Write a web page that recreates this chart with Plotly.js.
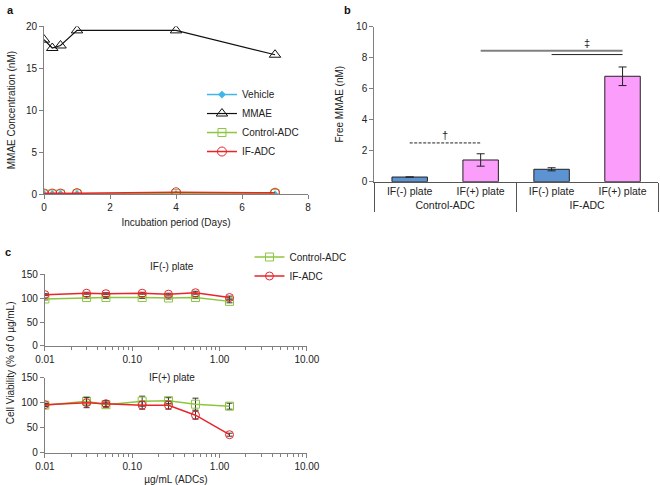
<!DOCTYPE html>
<html><head><meta charset="utf-8">
<script src="https://cdn.plot.ly/plotly-3.0.1.min.js"></script>
<style>html,body{margin:0;padding:0;background:#fff}#c{width:660px;height:485px}</style>
</head><body><div id="c"></div>
<script>
// Panel a
const days = [0, 0.25, 0.5, 1, 4, 7];
const vehicleA = [0, 0, 0, 0, 0, -0.05];
const mmaeA = [18.4, 17.4, 17.7, 19.5, 19.5, 16.6];
const controlAdcA = [0, 0, 0, 0.02, 0.05, 0.05];
const ifAdcA = [0.05, 0.05, 0.05, 0.1, 0.2, 0.15];
// Panel b
const adcGroups = ['Control-ADC', 'Control-ADC', 'IF-ADC', 'IF-ADC'];
const plates = ['IF(-) plate', 'IF(+) plate', 'IF(-) plate', 'IF(+) plate'];
const freeMmae = [0.3, 1.4, 0.8, 6.8];
const freeMmaeErr = [0, 0.4, 0.1, 0.6];
const barColors = ['#5b93d3', '#fb9dfb', '#5b93d3', '#fb9dfb'];
// significance brackets: [from bar index, to bar index, value]
const sigDash = [0, 1, 2.5];
const sigGray = [1, 3, 8.45];
const sigBlack = [2, 3, 8.2];
// Panel c
const conc = [0.01, 0.03, 0.05, 0.13, 0.26, 0.53, 1.3];
const ctrlMinus = [98, 101, 101, 101, 100, 101, 93];
const ctrlMinusErr = [2, 2, 2, 2, 2, 2, 3];
const ifMinus = [107, 110, 109, 110, 108, 111, 101];
const ifMinusErr = [2, 2, 2, 2, 2, 3, 3];
const ctrlPlus = [95, 103, 96, 103, 104, 97, 93];
const ctrlPlusErr = [3, 8, 5, 10, 6, 12, 6];
const ifPlus = [96, 100, 98, 95, 95, 75, 36];
const ifPlusErr = [3, 10, 6, 8, 8, 8, 3];

const F = '"Liberation Sans", Arial, sans-serif';
const GREEN = '#8cc63f', RED = '#e8252a', BLUE = '#3fb6e8';
const AX = {showline: true, linecolor: '#808080', linewidth: 1, ticks: 'outside', ticklen: 4,
  tickcolor: '#808080', showgrid: false, zeroline: false, automargin: false,
  tickfont: {family: F, size: 10, color: '#222'}};

function sigTrace(s, color, width, dash) {
  return {x: [[adcGroups[s[0]], adcGroups[s[1]]], [plates[s[0]], plates[s[1]]]], y: [s[2], s[2]],
    mode: 'lines', xaxis: 'x2', yaxis: 'y2', showlegend: false, line: {color: color, width: width, dash: dash}};
}

const traces = [
  {x: days, y: vehicleA, name: 'Vehicle', mode: 'lines+markers', xaxis: 'x', yaxis: 'y', legend: 'legend',
   line: {color: BLUE, width: 1.5}, marker: {symbol: 'diamond', size: 6, color: BLUE}},
  {x: days, y: mmaeA, name: 'MMAE', mode: 'lines+markers', xaxis: 'x', yaxis: 'y', legend: 'legend',
   line: {color: '#111', width: 1.2}, marker: {symbol: 'triangle-up-open', size: 10, color: '#111', line: {width: 1}}},
  {x: days, y: controlAdcA, name: 'Control-ADC', mode: 'lines+markers', xaxis: 'x', yaxis: 'y', legend: 'legend',
   line: {color: GREEN, width: 1.5}, marker: {symbol: 'square-open', size: 8, color: GREEN}},
  {x: days, y: ifAdcA, name: 'IF-ADC', mode: 'lines+markers', xaxis: 'x', yaxis: 'y', legend: 'legend',
   line: {color: RED, width: 1.5}, marker: {symbol: 'circle-open', size: 9, color: RED}},
  {type: 'bar', x: [adcGroups, plates], y: freeMmae, xaxis: 'x2', yaxis: 'y2', showlegend: false, width: 0.5,
   marker: {color: barColors, line: {color: '#222', width: 1}},
   error_y: {type: 'data', array: freeMmaeErr, color: '#222', thickness: 1, width: 4}},
  sigTrace(sigDash, '#222', 1, '3px,1.5px'),
  sigTrace(sigGray, '#808080', 2, 'solid'),
  sigTrace(sigBlack, '#222', 1, 'solid'),
  {x: conc, y: ctrlMinus, name: 'Control-ADC', mode: 'lines+markers', xaxis: 'x3', yaxis: 'y3', legend: 'legend2',
   line: {color: GREEN, width: 1.5}, marker: {symbol: 'square-open', size: 8, color: GREEN},
   error_y: {type: 'data', array: ctrlMinusErr, color: '#333', thickness: 1, width: 3}},
  {x: conc, y: ifMinus, name: 'IF-ADC', mode: 'lines+markers', xaxis: 'x3', yaxis: 'y3', legend: 'legend2',
   line: {color: RED, width: 1.5}, marker: {symbol: 'circle-open', size: 8, color: RED},
   error_y: {type: 'data', array: ifMinusErr, color: '#333', thickness: 1, width: 3}},
  {x: conc, y: ctrlPlus, name: 'Control-ADC', mode: 'lines+markers', xaxis: 'x4', yaxis: 'y4', showlegend: false,
   line: {color: GREEN, width: 1.5}, marker: {symbol: 'square-open', size: 8, color: GREEN},
   error_y: {type: 'data', array: ctrlPlusErr, color: '#333', thickness: 1, width: 3}},
  {x: conc, y: ifPlus, name: 'IF-ADC', mode: 'lines+markers', xaxis: 'x4', yaxis: 'y4', showlegend: false,
   line: {color: RED, width: 1.5}, marker: {symbol: 'circle-open', size: 8, color: RED},
   error_y: {type: 'data', array: ifPlusErr, color: '#333', thickness: 1, width: 3}}
];

const tf = {family: F, size: 10, color: '#222'};
const layout = {
  width: 660, height: 485, margin: {l: 0, r: 0, t: 0, b: 0},
  paper_bgcolor: '#fff', plot_bgcolor: 'rgba(0,0,0,0)', font: {family: F, size: 10, color: '#222'},
  xaxis: Object.assign({}, AX, {domain: [0.0667, 0.4667], anchor: 'y', range: [0, 8], dtick: 2,
    title: {text: 'Incubation period (Days)', font: tf, standoff: 6}}),
  yaxis: Object.assign({}, AX, {domain: [0.6, 0.946], anchor: 'x', range: [0, 20], dtick: 5,
    title: {text: 'MMAE Concentration (nM)', font: tf, standoff: 8}}),
  xaxis2: Object.assign({}, AX, {type: 'multicategory', domain: [0.567, 0.997], anchor: 'y2', ticks: '',
    range: [-0.5, 3.5], showdividers: true, dividercolor: '#555', dividerwidth: 1, linecolor: '#555',
    tickfont: {family: F, size: 10.5, color: '#222'}}),
  yaxis2: Object.assign({}, AX, {domain: [0.6254, 0.945], anchor: 'x2', range: [0, 10], dtick: 2,
    title: {text: 'Free MMAE (nM)', font: tf, standoff: 10}}),
  xaxis3: Object.assign({}, AX, {type: 'log', domain: [0.068, 0.465], anchor: 'y3', range: [-2, 1], dtick: 1,
    tickformat: '.2f', minor: {ticks: 'outside', ticklen: 3, tickcolor: '#808080', dtick: 'D1'}}),
  yaxis3: Object.assign({}, AX, {domain: [0.2866, 0.435], anchor: 'x3', range: [0, 150], dtick: 50}),
  xaxis4: Object.assign({}, AX, {type: 'log', domain: [0.068, 0.465], anchor: 'y4', range: [-2, 1], dtick: 1,
    tickformat: '.2f', minor: {ticks: 'outside', ticklen: 3, tickcolor: '#808080', dtick: 'D1'},
    title: {text: 'µg/mL (ADCs)', font: tf, standoff: 6}}),
  yaxis4: Object.assign({}, AX, {domain: [0.0666, 0.2213], anchor: 'x4', range: [0, 150], dtick: 50}),
  legend: {x: 0.306, y: 0.835, xanchor: 'left', yanchor: 'top', bgcolor: 'rgba(0,0,0,0)',
    font: {family: F, size: 10, color: '#222'}, itemwidth: 30, tracegroupgap: 0},
  legend2: {x: 0.378, y: 0.500, xanchor: 'left', yanchor: 'top', bgcolor: 'rgba(0,0,0,0)',
    font: {family: F, size: 10, color: '#222'}, itemwidth: 30},
  annotations: [
    {text: '<b>a</b>', xref: 'paper', yref: 'paper', x: 0.008, y: 0.995, xanchor: 'left', yanchor: 'top', showarrow: false, font: {family: F, size: 11, color: '#111'}},
    {text: '<b>b</b>', xref: 'paper', yref: 'paper', x: 0.518, y: 0.995, xanchor: 'left', yanchor: 'top', showarrow: false, font: {family: F, size: 11, color: '#111'}},
    {text: '<b>c</b>', xref: 'paper', yref: 'paper', x: 0.005, y: 0.497, xanchor: 'left', yanchor: 'top', showarrow: false, font: {family: F, size: 11, color: '#111'}},
    {text: '†', xref: 'x2', yref: 'y2', x: (sigDash[0] + sigDash[1]) / 2, y: sigDash[2], yanchor: 'bottom', showarrow: false, font: {family: F, size: 11, color: '#222'}},
    {text: '‡', xref: 'x2', yref: 'y2', x: 2.5, y: sigGray[2], yanchor: 'bottom', showarrow: false, font: {family: F, size: 11, color: '#222'}},
    {text: 'IF(-) plate', xref: 'x3 domain', yref: 'y3 domain', x: 0.485, y: 1, yanchor: 'bottom', showarrow: false, font: tf},
    {text: 'IF(+) plate', xref: 'x4 domain', yref: 'y4 domain', x: 0.485, y: 1, yanchor: 'middle', showarrow: false, font: tf},
    {text: 'Cell Viability (% of 0 µg/mL)', xref: 'paper', yref: 'paper', x: 0.016, y: 0.252, xanchor: 'center', yanchor: 'middle', textangle: -90, showarrow: false, font: tf}
  ]
};
Plotly.newPlot('c', traces, layout, {staticPlot: true});
</script></body></html>
